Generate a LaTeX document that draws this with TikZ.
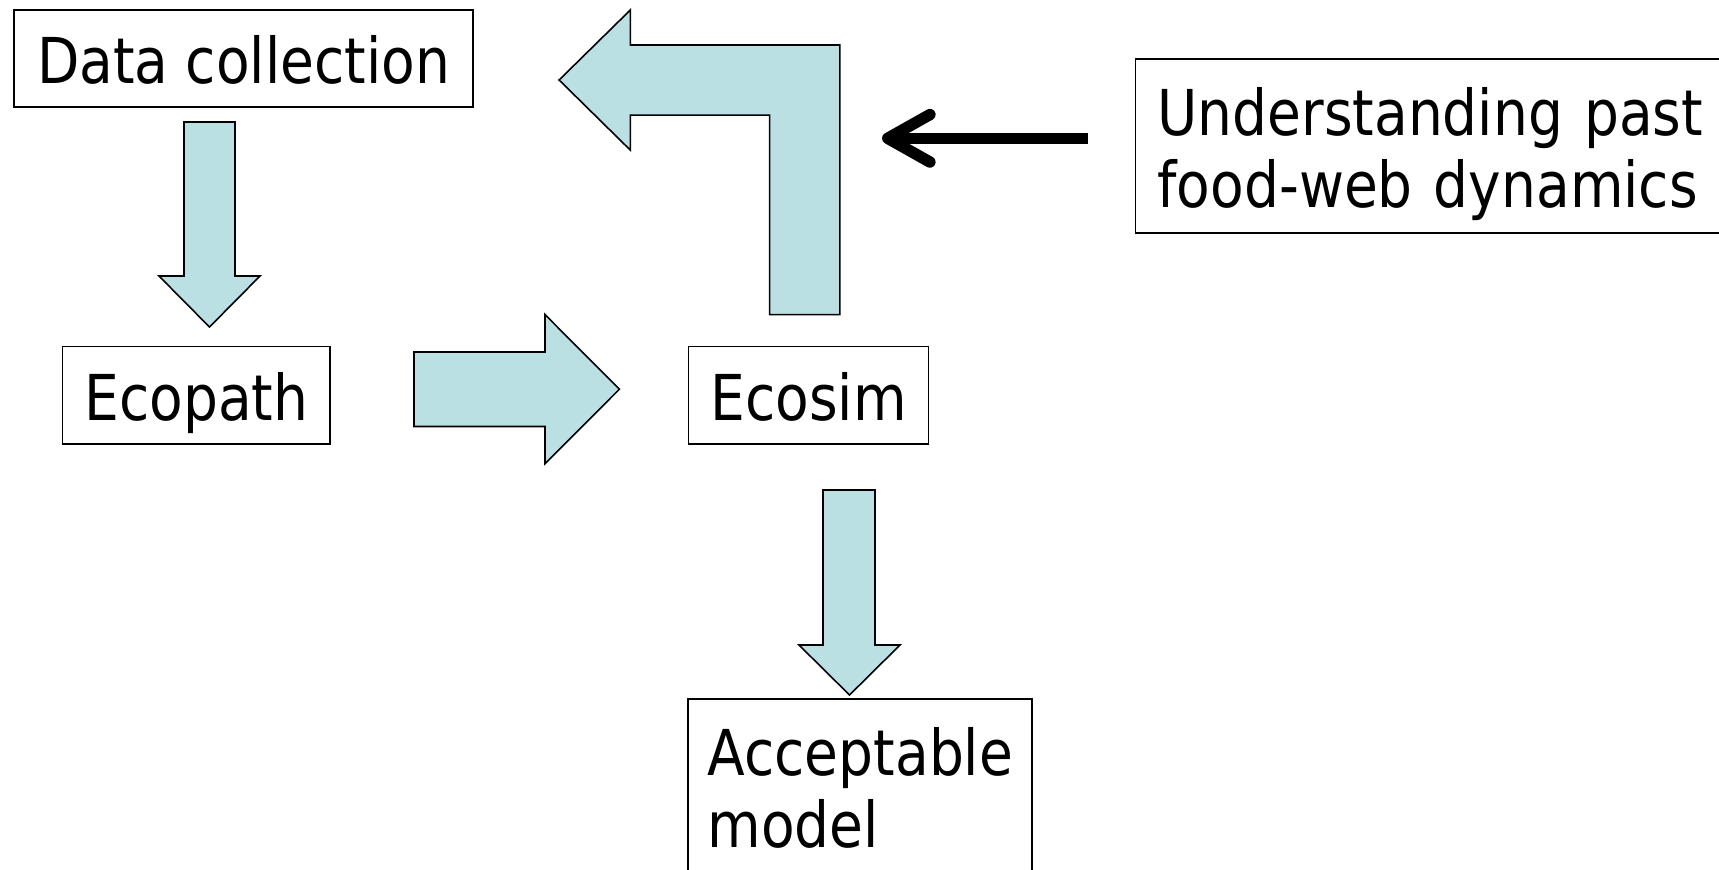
\documentclass[tikz,border=0pt]{standalone}
\usepackage{fontspec}
\setmainfont{DejaVu Sans}[FakeStretch=0.87]
\usetikzlibrary{arrows.meta}
\definecolor{arrowfill}{HTML}{BBE0E3}

\begin{document}
\begin{tikzpicture}[x=0.02cm,y=-0.02cm,
  box/.style={draw,line width=0.9pt,inner xsep=0.44cm,inner ysep=0pt,
    minimum height=1.95cm,text height=29pt,text depth=0pt,
    font=\fontsize{36}{41}\selectfont},
  twoline/.style={box,anchor=north west,align=left,text depth=41pt},
  blockarrow/.style={fill=arrowfill,draw=black,line width=0.9pt}]
\useasboundingbox (0,0) rectangle (1719,869);
\clip (0,0) rectangle (1719,869);
\node[box,minimum width=9.18cm] (data) at (243.5,58.5) {Data collection};
\node[box,minimum width=5.35cm] (ecopath) at (196.3,395.2) {Ecopath};
\node[box,minimum width=4.76cm] (ecosim) at (808.5,395.2) {Ecosim};
\node[twoline,text width=6.1cm,minimum height=3.46cm,inner xsep=0.39cm] (model) at (687.4,698.3) {Acceptable\\model};
\node[twoline,text width=11.2cm,minimum height=3.49cm] (past) at (1134.7,58) {Understanding past\\food-web dynamics};
% block arrows
\filldraw[blockarrow] (184,122) -- (235,122) -- (235,276) -- (260,276) -- (209.5,327)
  -- (159,276) -- (184,276) -- cycle;
\filldraw[blockarrow] (414,352) -- (545,352) -- (545,314.6) -- (619.4,389.2)
  -- (545,463.7) -- (545,426.5) -- (414,426.5) -- cycle;
\filldraw[blockarrow] (823,490) -- (875,490) -- (875,645) -- (900,645) -- (849.5,695)
  -- (799,645) -- (823,645) -- cycle;
\filldraw[blockarrow] (769.6,314.6) -- (769.6,115.1) -- (630.4,115.1) -- (630.4,150.2)
  -- (559.1,80) -- (630.4,9.9) -- (630.4,45) -- (839.8,45) -- (839.8,314.6) -- cycle;
% pointer to the loop
\coordinate (tail) at (1087.7,138.3);
\coordinate (aim) at (882,138.3);
\draw[line width=6.5pt,-{Straight Barb[length=24pt,width=27pt,round]}] (tail) -- (aim);
\end{tikzpicture}
\end{document}
